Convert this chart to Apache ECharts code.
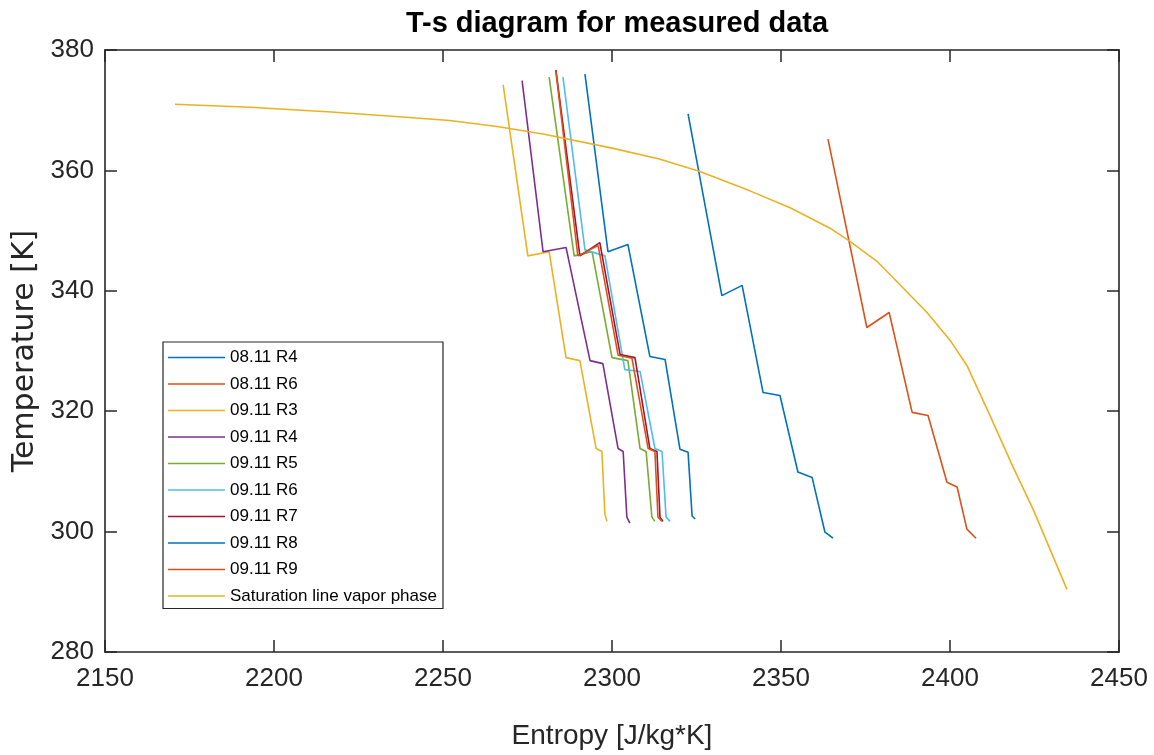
<!DOCTYPE html>
<html>
<head>
<meta charset="utf-8">
<script src="https://cdn.jsdelivr.net/npm/echarts@6/dist/echarts.min.js"></script>
<style>
  html, body { margin: 0; padding: 0; background: #ffffff; }
  #chart { width: 1154px; height: 755px; }
</style>
</head>
<body>
<div id="chart"></div>
<script>
// Entropy [J/kg*K], Temperature [K] pairs for each measured run
const run0811R4 = [[2322.5,369.4],[2332.5,339.2],[2338.5,340.9],[2344.7,323.1],[2349.7,322.6],[2355.0,309.9],[2359.2,309.0],[2363.0,299.9],[2365.4,298.9]];
const run0811R6 = [[2363.9,365.2],[2375.4,333.9],[2382.0,336.4],[2388.8,319.8],[2393.5,319.3],[2399.1,308.2],[2402.1,307.4],[2405.0,300.4],[2407.7,298.9]];
const run0911R3 = [[2267.8,374.2],[2275.1,345.8],[2281.4,346.5],[2286.4,328.9],[2290.5,328.4],[2295.3,313.8],[2297.0,313.3],[2297.9,302.9],[2298.5,301.7]];
const run0911R4 = [[2273.4,374.9],[2279.6,346.5],[2286.4,347.2],[2293.5,328.4],[2297.3,327.9],[2301.8,313.8],[2303.3,313.3],[2304.4,302.4],[2305.3,301.4]];
const run0911R5 = [[2281.4,375.5],[2288.8,345.8],[2294.1,346.5],[2300.0,328.9],[2304.7,328.4],[2308.3,313.8],[2310.1,313.3],[2311.8,302.4],[2312.7,301.7]];
const run0911R6 = [[2285.5,375.5],[2292.0,346.8],[2297.9,345.8],[2303.8,326.9],[2308.3,326.6],[2312.7,313.8],[2314.8,313.3],[2316.0,302.4],[2317.2,301.7]];
const run0911R7 = [[2283.4,376.7],[2290.5,345.8],[2296.4,348.0],[2302.4,329.4],[2306.8,328.9],[2311.2,313.8],[2313.3,313.3],[2314.2,302.4],[2315.1,301.7]];
const run0911R8 = [[2292.0,376.0],[2298.8,346.5],[2304.7,347.7],[2311.2,329.1],[2315.7,328.6],[2320.1,313.7],[2322.5,313.2],[2323.7,302.6],[2324.6,302.1]];
const run0911R9 = [[2283.4,376.4],[2289.9,345.8],[2295.9,347.5],[2301.8,329.3],[2305.9,328.8],[2310.7,313.8],[2312.7,313.3],[2313.6,302.4],[2314.8,301.7]];
// Saturated vapour line
const saturationLine = [[2170.7,371.0],[2193.0,370.5],[2217.0,369.7],[2237.0,368.9],[2252.0,368.3],[2266.0,367.3],[2280.0,366.0],[2300.0,363.7],[2314.0,361.9],[2326.0,359.8],[2340.8,356.6],[2352.7,353.8],[2364.5,350.4],[2370.4,348.2],[2378.4,344.9],[2385.2,341.0],[2393.2,336.4],[2400.0,331.8],[2405.0,327.6],[2411.8,319.3],[2418.6,310.8],[2424.6,303.7],[2434.6,290.4]];

const seriesNames = ['08.11 R4','08.11 R6','09.11 R3','09.11 R4','09.11 R5','09.11 R6','09.11 R7','09.11 R8','09.11 R9','Saturation line vapor phase'];
const seriesData = [run0811R4, run0811R6, run0911R3, run0911R4, run0911R5, run0911R6, run0911R7, run0911R8, run0911R9, saturationLine];
const seriesColors = ['#0072BD','#D95319','#EDB120','#7E2F8E','#77AC30','#4DBEEE','#A2142F','#0072BD','#D95319','#EDB120'];

const xTicks = { min: 2150, max: 2450, interval: 50 };
const yTicks = { min: 280, max: 380, interval: 20 };

const sans = "'Liberation Sans', Arial, Helvetica, sans-serif";
const ink = '#262626';

const chart = echarts.init(document.getElementById('chart'), null, { renderer: 'canvas' });

function xAxisDef(pos, withLabels) {
  return {
    type: 'value', position: pos,
    min: xTicks.min, max: xTicks.max, interval: xTicks.interval,
    name: withLabels ? 'Entropy [J/kg*K]' : '',
    nameLocation: 'middle', nameGap: 70,
    nameTextStyle: { fontFamily: sans, fontSize: 28, color: ink },
    axisLine: { show: true, onZero: false, lineStyle: { color: ink, width: 1.6 } },
    axisTick: { show: true, inside: true, length: 12, lineStyle: { color: ink, width: 1.5 } },
    axisLabel: { show: withLabels, margin: 14, fontFamily: sans, fontSize: 26, color: ink,
                 formatter: v => String(v) },
    splitLine: { show: false }
  };
}
function yAxisDef(pos, withLabels) {
  return {
    type: 'value', position: pos,
    min: yTicks.min, max: yTicks.max, interval: yTicks.interval,
    name: withLabels ? 'Temperature [K]' : '',
    nameLocation: 'middle', nameGap: 55,
    nameTextStyle: { fontFamily: "'DejaVu Sans', sans-serif", fontSize: 30, color: ink },
    axisLine: { show: true, onZero: false, lineStyle: { color: ink, width: 1.6 } },
    axisTick: { show: true, inside: true, length: 12, lineStyle: { color: ink, width: 1.5 } },
    axisLabel: { show: withLabels, margin: 11, fontFamily: sans, fontSize: 26, color: ink,
                 formatter: v => String(v) },
    splitLine: { show: false }
  };
}

const option = {
  animation: false,
  backgroundColor: '#ffffff',
  title: {
    text: 'T-s diagram for measured data',
    left: 612, top: 4, textAlign: 'center',
    textStyle: { fontFamily: sans, fontWeight: 'bold', fontSize: 29, color: '#000000' }
  },
  grid: { left: 105, right: 35, top: 50, bottom: 102, containLabel: false },
  legend: {
    orient: 'vertical',
    left: 163, top: 342,
    padding: [7, 6, 4, 5],
    icon: 'rect',
    itemWidth: 57, itemHeight: 1.6, itemGap: 9.5,
    backgroundColor: '#ffffff',
    borderColor: ink, borderWidth: 1.2, borderRadius: 0,
    textStyle: { fontFamily: sans, fontSize: 17, color: '#000000' },
    data: seriesNames
  },
  xAxis: [xAxisDef('bottom', true), xAxisDef('top', false)],
  yAxis: [yAxisDef('left', true), yAxisDef('right', false)],
  series: seriesNames.map((name, i) => ({
    name: name,
    type: 'line',
    data: seriesData[i],
    showSymbol: false,
    symbol: 'none',
    color: seriesColors[i],
    lineStyle: { color: seriesColors[i], width: 1.6 },
    z: 2 + i
  }))
};

chart.setOption(option);
</script>
</body>
</html>
